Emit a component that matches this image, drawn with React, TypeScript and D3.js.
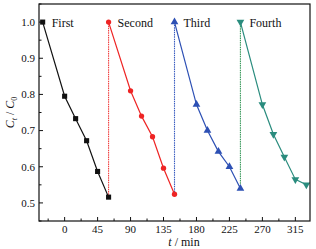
import React from 'react';
import * as d3 from 'd3';

const cycles = ['First', 'Second', 'Third', 'Fourth'];
const colors = ['#111111', '#ee2424', '#2d50b4', '#2a8c7e'];
const dashColors = ['#111111', '#f04040', '#3a5cc0', '#3a9a5c'];
const markers = ['square', 'circle', 'triangleUp', 'triangleDown'];

const timeFirst = [-30, 0, 15, 30, 45, 60];
const ratioFirst = [1.0, 0.795, 0.733, 0.672, 0.587, 0.516];
const timeSecond = [60, 90, 105, 120, 135, 150];
const ratioSecond = [1.0, 0.81, 0.74, 0.683, 0.596, 0.524];
const timeThird = [150, 180, 195, 210, 225, 240];
const ratioThird = [1.0, 0.772, 0.70, 0.642, 0.60, 0.54];
const timeFourth = [240, 270, 285, 300, 315, 330];
const ratioFourth = [1.0, 0.772, 0.69, 0.627, 0.565, 0.55];

const xTicks = [0, 45, 90, 135, 180, 225, 270, 315];
const yTicks = [0.5, 0.6, 0.7, 0.8, 0.9, 1.0];

const times = [timeFirst, timeSecond, timeThird, timeFourth];
const ratios = [ratioFirst, ratioSecond, ratioThird, ratioFourth];

const W = 316;
const H = 249;
const m = { left: 39, right: 6, top: 4, bottom: 28 };
const font = 'Liberation Serif, serif';

const x = d3.scaleLinear().domain([-35, 335]).range([m.left, W - m.right]);
const y = d3.scaleLinear().domain([0.45, 1.05]).range([H - m.bottom, m.top]);

const symbolFor: Record<string, d3.SymbolType> = {
    square: d3.symbolSquare,
    circle: d3.symbolCircle,
    triangleUp: d3.symbolTriangle,
    triangleDown: d3.symbolTriangle,
};

const App: React.FC = () => {
    const line = d3.line<[number, number]>().x(d => x(d[0])).y(d => y(d[1]));
    const x0 = m.left, x1 = W - m.right, y0 = H - m.bottom, y1 = m.top;
    const minorX = d3.range(-22.5, 335, 22.5).filter(v => !xTicks.includes(v));
    const minorY = d3.range(0.45, 1.05, 0.1).map(v => +v.toFixed(2));

    return (
        <div style={{ position: 'absolute', left: 0, top: 0 }}>
            <svg width={W} height={H} style={{ display: 'block', background: '#fff' }}>
                {/* dashed connectors between cycles */}
                {times.slice(1).map((t, i) => (
                    <line key={'d' + i}
                        x1={x(t[0])} x2={x(t[0])}
                        y1={y(ratios[i][ratios[i].length - 1])} y2={y(ratios[i + 1][0])}
                        stroke={dashColors[i + 1]} strokeWidth={1.1} strokeDasharray="1.5,0.8" />
                ))}
                {/* series */}
                {times.map((t, i) => {
                    const pts = t.map((v, j) => [v, ratios[i][j]] as [number, number]);
                    const sym = d3.symbol().type(symbolFor[markers[i]]).size(markers[i] === 'circle' ? 22 : 26)();
                    return (
                        <g key={cycles[i]}>
                            <path d={line(pts) || ''} fill="none" stroke={colors[i]} strokeWidth={1.2} />
                            {pts.map((p, j) => (
                                <path key={j} d={sym || ''} fill={colors[i]}
                                    transform={`translate(${x(p[0])},${y(p[1])})${markers[i] === 'triangleDown' ? ' rotate(180)' : ''}`} />
                            ))}
                        </g>
                    );
                })}
                {/* series labels */}
                {cycles.map((c, i) => (
                    <text key={'l' + c} x={x(times[i][0]) + 9} y={27}
                        fontFamily={font} fontSize={12} fill="#111">{c}</text>
                ))}
                {/* frame */}
                <rect x={x0} y={y1} width={x1 - x0} height={y0 - y1} fill="none" stroke="#111" strokeWidth={1.2} />
                {/* x ticks */}
                {xTicks.map(v => (
                    <g key={'x' + v}>
                        <line x1={x(v)} x2={x(v)} y1={y0} y2={y0 - 4} stroke="#111" strokeWidth={1} />
                        <text x={x(v)} y={233} textAnchor="middle" fontFamily={font} fontSize={11} fill="#111">{v}</text>
                    </g>
                ))}
                {minorX.map(v => (
                    <line key={'mx' + v} x1={x(v)} x2={x(v)} y1={y0} y2={y0 - 2.5} stroke="#111" strokeWidth={1} />
                ))}
                {/* y ticks */}
                {yTicks.map(v => (
                    <g key={'y' + v}>
                        <line x1={x0} x2={x0 + 4} y1={y(v)} y2={y(v)} stroke="#111" strokeWidth={1} />
                        <text x={35} y={y(v) + 3.8} textAnchor="end" fontFamily={font} fontSize={11} fill="#111">{v.toFixed(1)}</text>
                    </g>
                ))}
                {minorY.map(v => (
                    <line key={'my' + v} x1={x0} x2={x0 + 2.5} y1={y(v)} y2={y(v)} stroke="#111" strokeWidth={1} />
                ))}
                {/* axis titles */}
                <text x={184} y={246} textAnchor="middle" fontFamily={font} fontSize={12} fill="#111">
                    <tspan fontStyle="italic">t</tspan> / min
                </text>
                <text transform={`translate(14,${(y0 + y1) / 2}) rotate(-90)`} textAnchor="middle"
                    fontFamily={font} fontSize={12} fill="#111">
                    <tspan fontStyle="italic">C</tspan>
                    <tspan fontSize={8} dy={3} fontStyle="italic">t</tspan>
                    <tspan dy={-3}> / </tspan>
                    <tspan fontStyle="italic">C</tspan>
                    <tspan fontSize={8} dy={3}>0</tspan>
                </text>
            </svg>
        </div>
    );
};

export default App;
